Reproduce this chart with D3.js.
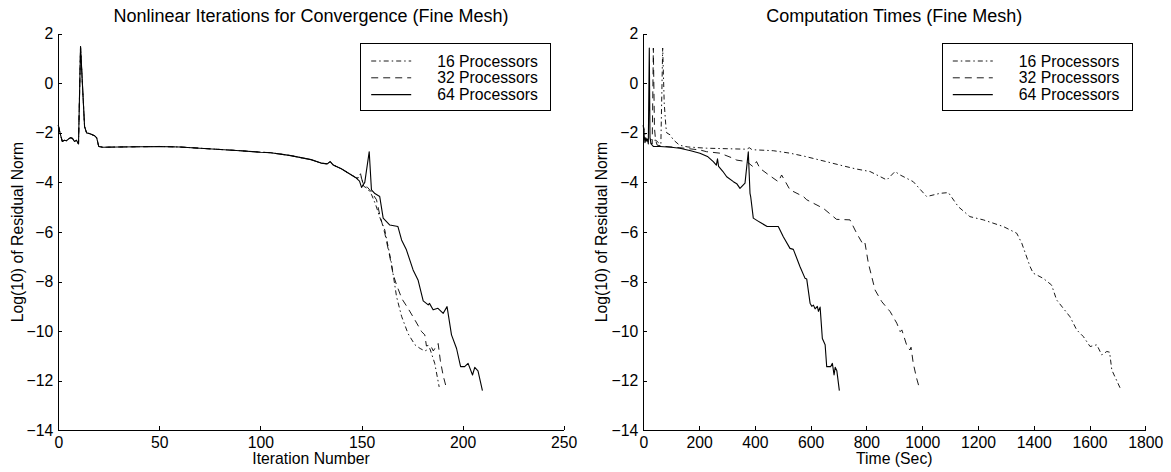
<!DOCTYPE html>
<html>
<head>
<meta charset="utf-8">
<script src="https://cdn.jsdelivr.net/npm/d3@7"></script>
<style>
  body { margin: 0; background: #fff; }
  svg { display: block; }
  svg text { font-family: "Liberation Sans", Arial, Helvetica, sans-serif; }
</style>
</head>
<body>
<svg id="chart" width="1171" height="472"></svg>
<script>
// --- data ---

// left panel: residual vs iteration, the three runs overlap until ~147
var iterShared = [[0,-1.7],[1,-2.05],[2,-2.35],[3,-2.3],[4,-2.32],[5,-2.25],[6,-2.2],[7,-2.22],[8,-2.35],[9,-2.3],[10,-2.45],
  [11,1.48],[13,-1.75],[14,-2.0],[15,-2.02],[16,-2.05],[18,-2.12],[19,-2.2],[20,-2.55],[22,-2.58],[30,-2.57],[40,-2.56],
  [50,-2.55],[60,-2.57],[70,-2.62],[80,-2.67],[90,-2.72],[100,-2.78],[105,-2.8],[110,-2.86],[115,-2.92],[120,-3.0],
  [125,-3.08],[130,-3.22],[133,-3.25],[134.5,-3.16],[136,-3.3],[140,-3.45],[144,-3.65],[147,-3.8]];

var iter16Tail = [[148,-3.8],[149.5,-3.65],[151,-4.15],[153,-4.25],[155,-4.5],[157,-4.9],[159,-5.4],[161.5,-5.92],
  [164.8,-7.26],[167.3,-8.6],[169.8,-9.4],[173,-10.1],[176.4,-10.55],[179,-10.7],[181.3,-10.8],[183.8,-10.7],
  [185,-11.0],[186.2,-11.3],[188.4,-12.25]];

var iter32Tail = [[148,-3.85],[149.5,-3.7],[151,-4.1],[153,-4.2],[155,-4.4],[157.4,-4.7],[159,-5.3],[161.5,-6.05],
  [164,-7.0],[165.6,-7.7],[167.3,-8.13],[170,-8.7],[173,-9.08],[176.4,-9.55],[179.7,-10.02],[181.3,-10.15],
  [182.1,-10.6],[184,-10.55],[185.5,-10.8],[187,-10.6],[187.9,-10.5],[189,-11.2],[190.4,-11.8],[192,-12.3]];

var iter64Tail = [[149,-3.95],[150,-4.2],[151.6,-4.0],[153.8,-2.76],[154.9,-4.3],[156.6,-4.45],[159,-4.57],[160.7,-5.44],
  [164,-5.72],[168,-5.78],[169.8,-6.32],[172.2,-6.72],[175.5,-7.53],[178,-7.95],[180.5,-8.78],[183,-8.94],[183.6,-8.88],
  [185.4,-9.14],[187.8,-9.08],[190.4,-9.28],[192.3,-9.01],[194.5,-10.15],[197,-10.7],[199,-11.43],[201,-11.43],
  [202.7,-11.3],[204.9,-11.77],[206,-11.46],[207.6,-11.6],[209.8,-12.4]];

// right panel: residual vs wall time (sec)
var time16 = [[0,-1.7],[8,-2.2],[16,-2.35],[25,-2.25],[35,-2.3],[45,-2.3],[55,-2.4],[63,-2.45],[69.5,1.42],[75,-0.8],
  [81,-1.75],[84,-2.0],[96,-2.08],[107.6,-2.28],[130,-2.5],[160,-2.57],[227,-2.62],[300,-2.64],[371,-2.66],[380,-2.6],
  [390,-2.68],[466,-2.72],[526,-2.82],[580,-2.95],[634,-3.1],[705,-3.3],[760,-3.45],[813,-3.56],[873,-3.9],[902.5,-3.56],
  [921,-3.7],[968,-3.97],[1016,-4.57],[1064,-4.44],[1094,-4.41],[1129.5,-4.98],[1171,-5.38],[1219,-5.51],[1291,-5.78],
  [1339,-6.05],[1357,-6.45],[1387,-7.4],[1398,-7.66],[1434,-7.87],[1464,-8.14],[1482,-8.74],[1530,-9.42],[1554,-9.95],
  [1578,-10.22],[1602,-10.62],[1626,-10.55],[1644,-10.96],[1662,-10.82],[1672,-10.85],[1680,-11.57],[1710,-12.3]];

var time32 = [[0,-1.7],[5,-2.2],[10,-2.35],[15,-2.25],[20,-2.3],[25,-2.4],[32,-2.45],[36,1.42],[40,-1.8],[44,-2.3],
  [50,-2.5],[80,-2.55],[131,-2.6],[203,-2.69],[227,-2.76],[275,-2.82],[323,-3.03],[335,-3.1],[371,-3.16],[394,-3.37],
  [406,-3.16],[418,-3.43],[450,-3.7],[484,-3.97],[496,-3.7],[526,-4.3],[574,-4.57],[586,-4.7],[634,-4.98],[645,-5.04],
  [693,-5.49],[741,-5.51],[765,-6.05],[789,-6.52],[795,-6.45],[807,-7.26],[831,-8.34],[855,-8.81],[885,-9.21],
  [909,-9.68],[921,-10.02],[927,-9.95],[944,-10.55],[956,-10.76],[960,-10.65],[968,-11.3],[980,-11.9],[990,-12.3]];

var time64 = [[0,-1.7],[3,-2.1],[6,-2.4],[9,-2.2],[12,-2.3],[15,-2.25],[18,-2.45],[21.5,1.42],[24,-2.2],[28,-2.45],
  [36,-2.55],[60,-2.55],[100,-2.58],[131,-2.62],[170,-2.72],[203,-2.82],[230,-2.95],[251,-3.16],[262,-3.3],[266,-3.05],
  [270,-3.35],[285,-3.55],[299,-3.77],[323,-3.97],[335,-4.05],[346.7,-4.24],[364.7,-4.03],[376.5,-2.76],[382.6,-4.44],
  [385,-4.57],[394.4,-5.44],[410,-5.55],[424.5,-5.65],[444,-5.78],[484,-5.78],[502,-6.19],[526,-6.66],[538,-6.7],
  [562,-7.4],[580,-7.87],[586,-7.9],[598,-8.87],[604,-9.0],[610,-8.95],[616,-9.1],[624,-9.0],[628,-9.2],[634,-9.03],
  [642,-10.3],[652,-10.55],[657.6,-11.43],[672,-11.43],[678,-11.3],[684,-11.77],[688,-11.46],[694,-11.6],[703,-12.4]];

var seriesNames = ['16 Processors', '32 Processors', '64 Processors'];
var yTicks = [-14, -12, -10, -8, -6, -4, -2, 0, 2];
var iterTicks = [0, 50, 100, 150, 200, 250];
var timeTicks = [0, 200, 400, 600, 800, 1000, 1200, 1400, 1600, 1800];

var dashes = ['5,3,1.5,3', '7,5', null];

var svg = d3.select('#chart');
var fontSize = 15.75;

function panel(opts) {
    var x = d3.scaleLinear().domain([opts.xTicks[0], opts.xTicks[opts.xTicks.length - 1]]).range([opts.left, opts.right]);
    var y = d3.scaleLinear().domain([-14, 2]).range([430.3, 33.7]);
    var g = svg.append('g');

    // axes (matlab style: ticks inside, no box)
    var xAxis = d3.axisBottom(x).tickValues(opts.xTicks).tickSizeInner(-4).tickSizeOuter(0).tickPadding(6.5).tickFormat(d3.format('d'));
    var yAxis = d3.axisLeft(y).tickValues(yTicks).tickSizeInner(-4).tickSizeOuter(0).tickPadding(5).tickFormat(d3.format('d'));

    g.append('g').attr('transform', 'translate(0,' + y(-14) + ')').call(xAxis).attr('font-family', null).attr('font-size', fontSize);
    g.append('g').attr('transform', 'translate(' + x.range()[0] + ',0)').call(yAxis).attr('font-family', null).attr('font-size', fontSize);
    g.selectAll('.tick text').attr('fill', '#000');
    g.selectAll('.domain, .tick line').attr('stroke', '#000').attr('shape-rendering', 'crispEdges');

    // lines
    var line = d3.line().x(function (d) { return x(d[0]); }).y(function (d) { return y(d[1]); });
    opts.series.forEach(function (s, i) {
        g.append('path').datum(s).attr('d', line).attr('fill', 'none').attr('stroke', '#000')
            .attr('stroke-width', i == 2 ? 1.1 : 0.9).attr('stroke-dasharray', dashes[i]).attr('stroke-linejoin', 'round');
    });

    // titles
    var cx = (x.range()[0] + x.range()[1]) / 2;
    g.append('text').attr('x', cx).attr('y', 21.7).attr('text-anchor', 'middle').attr('font-size', 18).text(opts.title);
    g.append('text').attr('x', cx).attr('y', 463.5).attr('text-anchor', 'middle').attr('font-size', fontSize).text(opts.xLabel);
    g.append('text').attr('transform', 'translate(' + opts.yLabelX + ',' + y(-6) + ') rotate(-90)')
        .attr('text-anchor', 'middle').attr('font-size', fontSize).text('Log(10) of Residual Norm');

    // legend
    var lx = opts.right - 203, ly = 43.5;
    var leg = g.append('g').attr('transform', 'translate(' + lx + ',' + ly + ')');
    leg.append('rect').attr('width', 190).attr('height', 67).attr('fill', '#fff').attr('stroke', '#000').attr('shape-rendering', 'crispEdges');
    seriesNames.forEach(function (name, i) {
        var ty = 17.5 + i * 16.8;
        leg.append('line').attr('x1', 10.5).attr('x2', 50.5).attr('y1', ty).attr('y2', ty).attr('stroke', '#000')
            .attr('stroke-width', i == 2 ? 1.1 : 0.9).attr('stroke-dasharray', dashes[i]);
        leg.append('text').attr('x', 76.5).attr('y', ty + 5.5).attr('font-size', fontSize).text(name);
    });
}

panel({
    left: 58.3, right: 563.7, xTicks: iterTicks, yLabelX: 23,
    series: [iterShared.concat(iter16Tail), iterShared.concat(iter32Tail), iterShared.concat(iter64Tail)],
    title: 'Nonlinear Iterations for Convergence (Fine Mesh)', xLabel: 'Iteration Number'
});
panel({
    left: 643.3, right: 1145.3, xTicks: timeTicks, yLabelX: 607,
    series: [time16, time32, time64],
    title: 'Computation Times (Fine Mesh)', xLabel: 'Time (Sec)'
});
</script>
</body>
</html>
